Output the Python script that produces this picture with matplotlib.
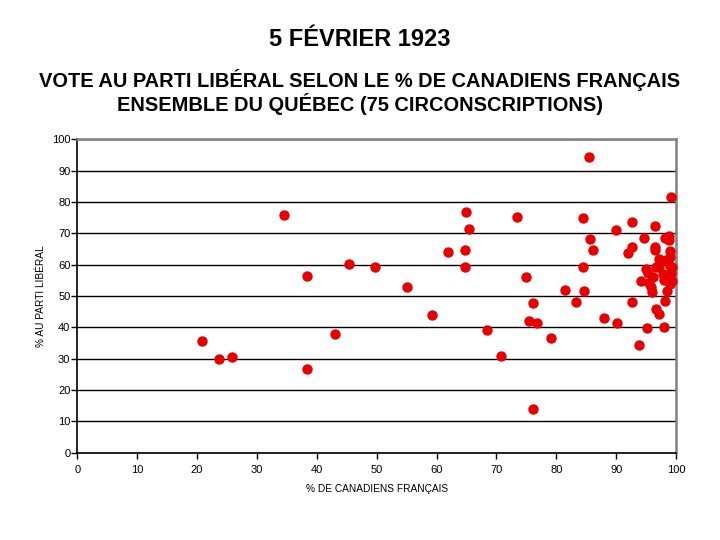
import matplotlib
matplotlib.use("Agg")
import matplotlib.pyplot as plt

# % de Canadiens français par circonscription
pct_cf = [20.9, 23.6, 25.8, 38.3, 43.0,
          34.5, 38.3, 45.3, 49.7,
          85.5, 99.1, 64.9, 73.4, 84.4, 65.5, 92.7, 89.9, 96.5, 85.6,
          94.6, 98.2, 98.8, 98.8, 61.9, 64.8, 86.2, 92.7, 92.0, 96.5,
          96.5, 99.0, 97.2, 98.4, 64.8, 84.4, 96.6, 97.2, 99.0, 99.4,
          95.0, 95.3, 99.1, 55.0, 74.9, 94.1, 98.0, 99.4, 99.0, 95.5,
          95.8, 96.0, 81.5, 84.7, 98.5, 76.1, 83.3, 92.6, 98.1, 59.2,
          87.9, 96.6, 97.1, 75.5, 76.7, 90.2, 68.5, 95.1, 98.0, 79.1,
          93.9, 70.7, 76.1, 99.0, 97.8, 96.2]
# % du vote au Parti libéral
pct_lib = [35.7, 29.9, 30.6, 26.8, 38.0,
           76.0, 56.5, 60.2, 59.2,
           94.5, 81.7, 76.9, 75.2, 75.0, 71.4, 73.6, 71.0, 72.4, 68.3,
           68.4, 68.5, 69.0, 67.9, 64.0, 64.7, 64.6, 65.8, 63.8, 65.5,
           64.7, 64.5, 61.9, 61.5, 59.2, 59.4, 59.2, 59.2, 59.6, 59.2,
           58.5, 57.5, 57.3, 52.8, 56.0, 54.7, 55.1, 54.9, 53.8, 54.3,
           52.8, 51.3, 52.0, 51.7, 51.7, 47.9, 48.0, 48.1, 48.5, 43.8,
           43.1, 46.0, 44.3, 42.1, 41.5, 41.5, 39.2, 39.9, 40.1, 36.7,
           34.4, 31.0, 14.0, 62.5, 57.0, 56.0]

plt.rcParams['font.family'] = ['Liberation Sans', 'DejaVu Sans']

fig = plt.figure(figsize=(7.2, 5.4), dpi=100)
ax = fig.add_axes([0.1074, 0.1617, 0.8315, 0.5802])

ax.scatter(pct_cf, pct_lib, s=42, color='#e80000', zorder=3, clip_on=False)

ax.set_xlim(0, 100)
ax.set_ylim(0, 100)
ax.set_xticks(range(0, 101, 10))
ax.set_yticks(range(0, 101, 10))
ax.yaxis.grid(True, color='black', linewidth=1)
ax.set_axisbelow(True)

for s in ['left', 'bottom']:
    ax.spines[s].set_color('black')
    ax.spines[s].set_linewidth(1.2)
for s in ['top', 'right']:
    ax.spines[s].set_color('#808080')
    ax.spines[s].set_linewidth(1.8)

ax.tick_params(axis='both', direction='out', length=4, width=1,
               labelsize=8, colors='black')
ax.tick_params(axis='x', pad=5)
ax.tick_params(axis='y', pad=1)

ax.set_xlabel('% DE CANADIENS FRANÇAIS', fontsize=7.3, labelpad=6)
ax.set_ylabel('% AU PARTI LIBÉRAL', fontsize=7.3, labelpad=4)

fig.text(0.5, 0.926, '5 FÉVRIER 1923', ha='center', va='center',
         fontsize=17, fontweight='bold')
fig.text(0.5, 0.83, "VOTE AU PARTI LIBÉRAL SELON LE % DE CANADIENS FRANÇAIS\nENSEMBLE DU QUÉBEC (75 CIRCONSCRIPTIONS)",
         ha='center', va='center', fontsize=14.4, fontweight='bold', linespacing=1.1)

fig.savefig('out.png', dpi=100)
